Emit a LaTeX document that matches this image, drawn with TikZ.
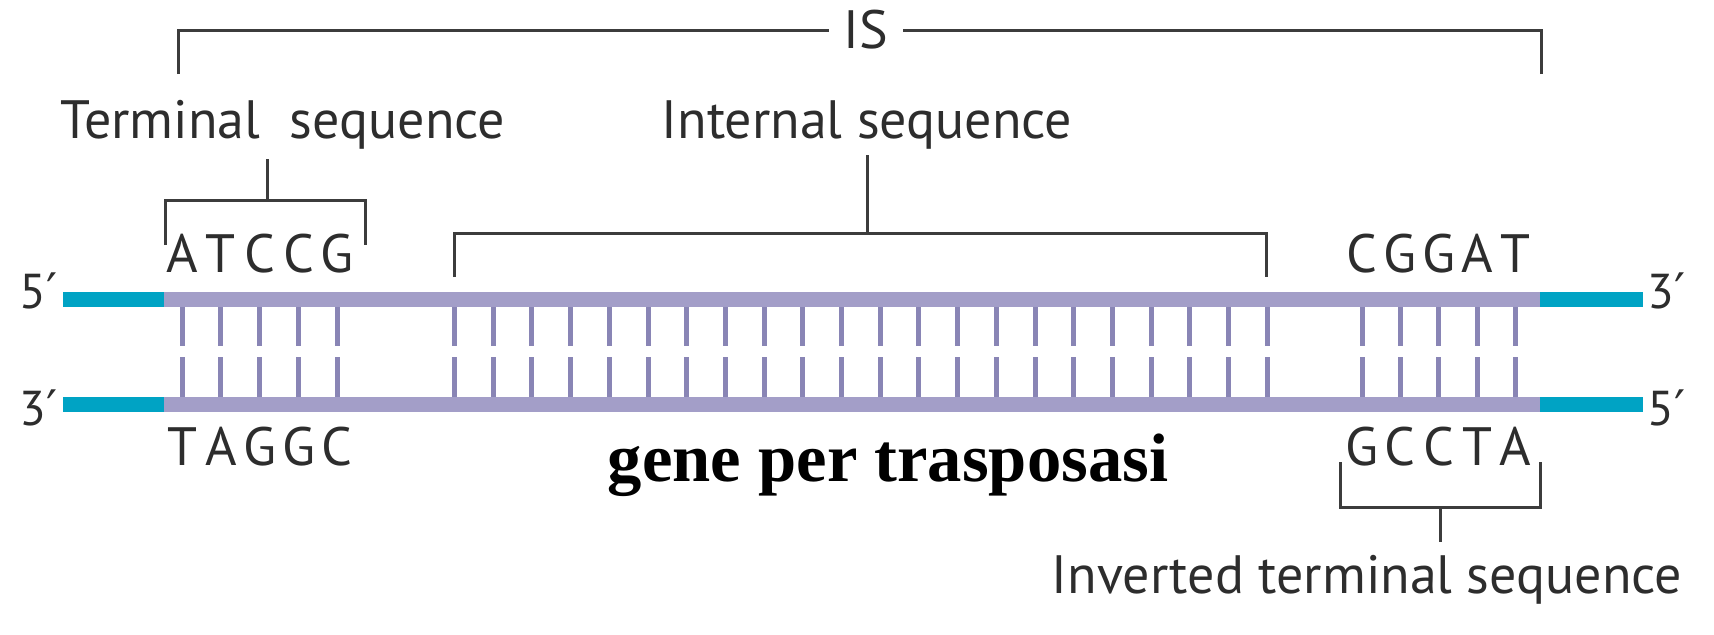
\documentclass[tikz,border=0pt]{standalone}
\usepackage{fontspec}
\setmainfont{PT Sans}
\newfontfamily\primefont{DejaVu Sans}
\newfontfamily\genefont{Liberation Serif}
\definecolor{cyanstrand}{RGB}{0,163,196}
\definecolor{lilac}{RGB}{163,158,200}
\definecolor{rungcol}{RGB}{137,133,181}
\definecolor{ink}{RGB}{45,45,45}
\definecolor{brk}{RGB}{60,60,60}
\newcommand{\pr}{{\primefont\char"2032}}
\begin{document}
\begin{tikzpicture}[x=0.5pt,y=-0.5pt,
  lbl/.style={font=\fontsize{27}{32}\selectfont, text=ink, inner sep=0pt, anchor=base},
  endlbl/.style={font=\fontsize{24.5}{28}\selectfont, text=ink, inner sep=0pt, anchor=base},
  genelbl/.style={font=\genefont\bfseries\fontsize{34.3}{40}\selectfont, text=black, inner sep=0pt, anchor=base},
  bracket/.style={draw=brk, line width=1.5pt, line join=miter},
  strandend/.style={draw=cyanstrand, line width=7.5pt},
  strandmid/.style={draw=lilac, line width=7.5pt},
  rungline/.style={draw=rungcol, line width=2.5pt}]
\useasboundingbox (0,0) rectangle (1714,634);

% rungs
\foreach \x in {182,220.85,259.7,298.55,337.4,
                1362,1400.4,1438.8,1477.2,1515.6} {
  \draw[rungline] (\x,299) -- (\x,346);
  \draw[rungline] (\x,357) -- (\x,404);
}
\foreach \i in {0,...,21} {
  \draw[rungline] ({454.5+38.7*\i},299) -- ({454.5+38.7*\i},346);
  \draw[rungline] ({454.5+38.7*\i},357) -- ({454.5+38.7*\i},404);
}

% strands
\coordinate (t0) at (63,299);  \coordinate (t1) at (164,299);
\coordinate (t2) at (1540,299); \coordinate (t3) at (1643,299);
\coordinate (b0) at (63,404);  \coordinate (b1) at (164,404);
\coordinate (b2) at (1540,404); \coordinate (b3) at (1643,404);
\draw[strandmid] (t1) -- (t2);
\draw[strandmid] (b1) -- (b2);
\draw[strandend] (t0) -- (t1);
\draw[strandend] (t2) -- (t3);
\draw[strandend] (b0) -- (b1);
\draw[strandend] (b2) -- (b3);

% end labels
\node[endlbl, anchor=base east] (l5) at (58,308) {5\pr};
\node[endlbl, anchor=base east] (l3) at (58,425) {3\pr};
\node[endlbl, anchor=base west] (r3) at (1647,308) {3\pr};
\node[endlbl, anchor=base west] (r5) at (1647,425) {5\pr};

% bases
\foreach \x/\c [count=\k] in {182/A,220.85/T,259.7/C,298.55/C,337.4/G} {
  \node[lbl] (tl\k) at (\x,272) {\c};
}
\foreach \x/\c [count=\k] in {182/T,220.85/A,259.7/G,298.55/G,337.4/C} {
  \node[lbl] (bl\k) at (\x,465) {\c};
}
\foreach \x/\c [count=\k] in {1362/C,1400.4/G,1438.8/G,1477.2/A,1515.6/T} {
  \node[lbl] (tr\k) at (\x,272) {\c};
}
\foreach \x/\c [count=\k] in {1362/G,1400.4/C,1438.8/C,1477.2/T,1515.6/A} {
  \node[lbl] (br\k) at (\x,465) {\c};
}

% labels
\node[lbl, inner xsep=7pt, anchor=center] (IS) at (866,30) {IS};
\node[lbl] (TS) at (283,138) {Terminal\hspace{0.55em}sequence};
\node[lbl] (INS) at (867,138) {Internal sequence};
\node[lbl] (ITS) at (1367,593) {Inverted terminal sequence};
\node[genelbl] (gene) at (888,481) {gene per trasposasi};

% IS bracket
\coordinate (isL) at (178,74);
\coordinate (isR) at (1541,74);
\draw[bracket] (isL) |- (IS.west);
\draw[bracket] (isR) |- (IS.east);

% terminal sequence bracket
\coordinate (tsL) at (165,245);
\coordinate (tsR) at (365,245);
\coordinate (tsM) at (267,200);
\coordinate (tsTop) at (267,159);
\draw[bracket] (tsL) |- (tsR |- tsM) -- (tsR);
\draw[bracket] (tsM) -- (tsTop);

% internal sequence bracket
\coordinate (inL) at (454,277);
\coordinate (inR) at (1266,277);
\coordinate (inM) at (867,233);
\coordinate (inTop) at (867,155);
\draw[bracket] (inL) |- (inR |- inM) -- (inR);
\draw[bracket] (inM) -- (inTop);

% inverted terminal sequence bracket
\coordinate (itL) at (1340,462);
\coordinate (itR) at (1540,462);
\coordinate (itM) at (1440,507);
\coordinate (itBot) at (1440,542);
\draw[bracket] (itL) |- (itR |- itM) -- (itR);
\draw[bracket] (itM) -- (itBot);
\end{tikzpicture}
\end{document}
